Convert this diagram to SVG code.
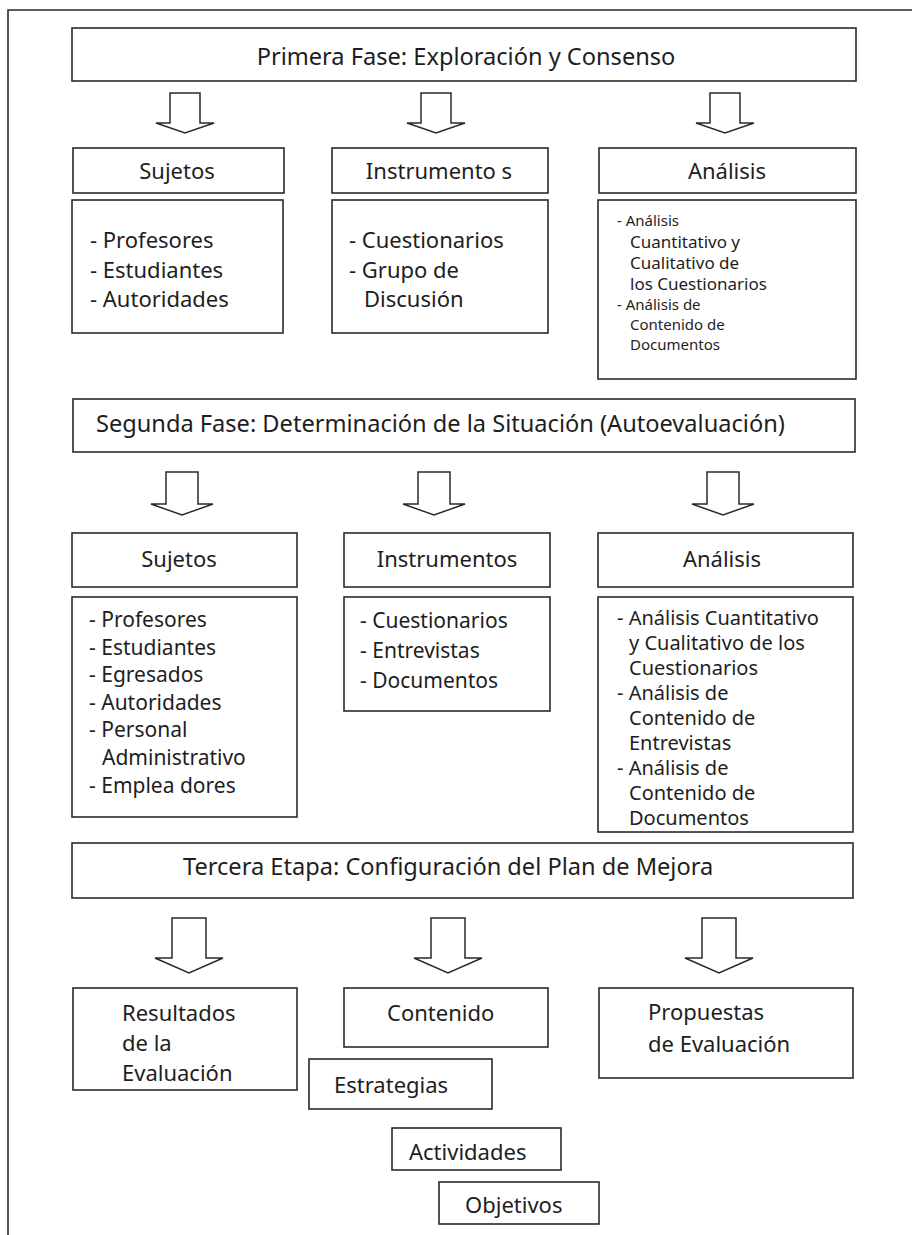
<svg xmlns="http://www.w3.org/2000/svg" width="912" height="1235" viewBox="0 0 912 1235">
  <style>
    .box { fill: #ffffff; stroke: #2a2a2a; stroke-width: 1.6; }
    .arrow { fill: #ffffff; stroke: #2a2a2a; stroke-width: 1.5; stroke-linejoin: miter; }
    .frame { fill: none; stroke: #2a2a2a; stroke-width: 1.6; }
    text { font-family: "Noto Sans", "Open Sans", "DejaVu Sans", sans-serif; fill: #1e1e1e; }
    .phase { font-size: 23.6px; }
    .head { font-size: 22px; text-anchor: middle; }
    .l22 { font-size: 22px; }
    .l21 { font-size: 21px; }
    .l20 { font-size: 20px; }
    .l17 { font-size: 17px; }
    .l15 { font-size: 15px; }
  </style>

  <!-- page frame (top and left edges) -->
  <path class="frame" d="M 8 1235 L 8 10 L 912 10"/>

  <!-- block arrows -->
  <g id="connectors">
    <!-- phase 1 -->
    <polygon class="arrow" points="170,93 200,93 200,123 214,123 185,133 156,123 170,123"/>
    <polygon class="arrow" points="421,93 451,93 451,123 465,123 436,133 407,123 421,123"/>
    <polygon class="arrow" points="710,93 740,93 740,123 754,123 725,133 696,123 710,123"/>
    <!-- phase 2 -->
    <polygon class="arrow" points="166,472 198,472 198,504 213,504 182,515 151,504 166,504"/>
    <polygon class="arrow" points="418,472 450,472 450,504 465,504 434,515 403,504 418,504"/>
    <polygon class="arrow" points="707,472 739,472 739,504 754,504 723,515 692,504 707,504"/>
    <!-- phase 3 -->
    <polygon class="arrow" points="172,918 206,918 206,958 223,958 189,973 155,958 172,958"/>
    <polygon class="arrow" points="431,918 465,918 465,958 482,958 448,973 414,958 431,958"/>
    <polygon class="arrow" points="702,918 736,918 736,958 753,958 719,973 685,958 702,958"/>
  </g>

  <!-- Phase 1 -->
  <g id="fase1">
    <rect class="box" x="72" y="28" width="784" height="53"/>
    <text class="phase" x="466" y="65" text-anchor="middle">Primera Fase: Exploración y Consenso</text>
  </g>

  <g id="f1-sujetos">
    <rect class="box" x="73" y="148" width="211" height="45"/>
    <text class="head" x="177" y="179">Sujetos</text>
  </g>
  <g id="f1-sujetos-lista">
    <rect class="box" x="72" y="200" width="211" height="133"/>
    <text class="l22">
      <tspan x="90" y="248">- Profesores</tspan>
      <tspan x="90" y="278">- Estudiantes</tspan>
      <tspan x="90" y="307">- Autoridades</tspan>
    </text>
  </g>

  <g id="f1-instrumentos">
    <rect class="box" x="332" y="148" width="216" height="45"/>
    <text class="head" x="439" y="179">Instrumento s</text>
  </g>
  <g id="f1-instrumentos-lista">
    <rect class="box" x="332" y="200" width="216" height="133"/>
    <text class="l22">
      <tspan x="349" y="248">- Cuestionarios</tspan>
      <tspan x="349" y="278">- Grupo de</tspan>
      <tspan x="364" y="307">Discusión</tspan>
    </text>
  </g>

  <g id="f1-analisis">
    <rect class="box" x="599" y="148" width="257" height="45"/>
    <text class="head" x="727" y="179">Análisis</text>
  </g>
  <g id="f1-analisis-lista">
    <rect class="box" x="598" y="200" width="258" height="179"/>
    <text class="l15" x="617" y="226">- Análisis</text>
    <text class="l17">
      <tspan x="630" y="248">Cuantitativo y</tspan>
      <tspan x="630" y="269">Cualitativo de</tspan>
      <tspan x="630" y="290">los Cuestionarios</tspan>
    </text>
    <text class="l15">
      <tspan x="617" y="310">- Análisis de</tspan>
      <tspan x="630" y="330">Contenido de</tspan>
      <tspan x="630" y="350">Documentos</tspan>
    </text>
  </g>

  <!-- Phase 2 -->
  <g id="fase2">
    <rect class="box" x="73" y="399" width="782" height="53"/>
    <text class="phase" x="96" y="432">Segunda Fase: Determinación de la Situación (Autoevaluación)</text>
  </g>

  <g id="f2-sujetos">
    <rect class="box" x="72" y="533" width="225" height="54"/>
    <text class="head" x="179" y="567">Sujetos</text>
  </g>
  <g id="f2-sujetos-lista">
    <rect class="box" x="72" y="597" width="225" height="220"/>
    <text class="l21">
      <tspan x="89" y="627">- Profesores</tspan>
      <tspan x="89" y="655">- Estudiantes</tspan>
      <tspan x="89" y="682">- Egresados</tspan>
      <tspan x="89" y="710">- Autoridades</tspan>
      <tspan x="89" y="737">- Personal</tspan>
      <tspan x="102" y="765">Administrativo</tspan>
      <tspan x="89" y="793">- Emplea dores</tspan>
    </text>
  </g>

  <g id="f2-instrumentos">
    <rect class="box" x="344" y="533" width="206" height="54"/>
    <text class="head" x="447" y="567">Instrumentos</text>
  </g>
  <g id="f2-instrumentos-lista">
    <rect class="box" x="344" y="597" width="206" height="114"/>
    <text class="l21">
      <tspan x="360" y="628">- Cuestionarios</tspan>
      <tspan x="360" y="658">- Entrevistas</tspan>
      <tspan x="360" y="688">- Documentos</tspan>
    </text>
  </g>

  <g id="f2-analisis">
    <rect class="box" x="598" y="533" width="255" height="54"/>
    <text class="head" x="722" y="567">Análisis</text>
  </g>
  <g id="f2-analisis-lista">
    <rect class="box" x="598" y="597" width="255" height="235"/>
    <text class="l20">
      <tspan x="617" y="625">- Análisis Cuantitativo</tspan>
      <tspan x="629" y="650">y Cualitativo de los</tspan>
      <tspan x="629" y="675">Cuestionarios</tspan>
      <tspan x="617" y="700">- Análisis de</tspan>
      <tspan x="629" y="725">Contenido de</tspan>
      <tspan x="629" y="750">Entrevistas</tspan>
      <tspan x="617" y="775">- Análisis de</tspan>
      <tspan x="629" y="800">Contenido de</tspan>
      <tspan x="629" y="825">Documentos</tspan>
    </text>
  </g>

  <!-- Phase 3 -->
  <g id="fase3">
    <rect class="box" x="72" y="843" width="781" height="55"/>
    <text class="phase" x="183" y="875">Tercera Etapa: Configuración del Plan de Mejora</text>
  </g>

  <g id="f3-resultados">
    <rect class="box" x="73" y="988" width="224" height="102"/>
    <text class="l22">
      <tspan x="122" y="1021">Resultados</tspan>
      <tspan x="122" y="1051">de la</tspan>
      <tspan x="122" y="1081">Evaluación</tspan>
    </text>
  </g>

  <g id="f3-contenido">
    <rect class="box" x="344" y="988" width="204" height="59"/>
    <text class="l22" x="387" y="1021">Contenido</text>
  </g>

  <g id="f3-propuestas">
    <rect class="box" x="599" y="988" width="254" height="90"/>
    <text class="l22">
      <tspan x="648" y="1020">Propuestas</tspan>
      <tspan x="648" y="1052">de Evaluación</tspan>
    </text>
  </g>

  <g id="f3-estrategias">
    <rect class="box" x="309" y="1059" width="183" height="50"/>
    <text class="l22" x="334" y="1093">Estrategias</text>
  </g>

  <g id="f3-actividades">
    <rect class="box" x="392" y="1128" width="169" height="42"/>
    <text class="l22" x="409" y="1160">Actividades</text>
  </g>

  <g id="f3-objetivos">
    <rect class="box" x="439" y="1182" width="160" height="42"/>
    <text class="l22" x="465" y="1213">Objetivos</text>
  </g>
</svg>
